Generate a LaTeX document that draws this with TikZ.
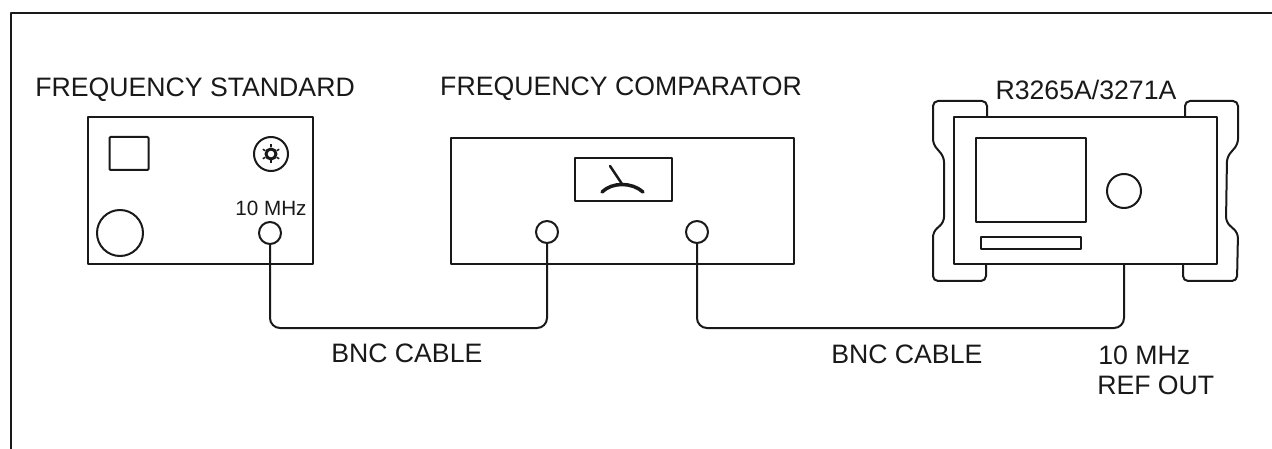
\documentclass[tikz,border=0pt]{standalone}
\usepackage{fontspec}
\setmainfont{Liberation Sans}
\def\px{0.75pt}
\tikzset{
  line/.style={line width=2*\px,draw=black!90,line join=round},
  panel/.style={line,rectangle,inner sep=0pt,minimum width=#1},
  port/.style={line,circle,inner sep=0pt,minimum size=#1},
  cable/.style={line,rounded corners=10*\px},
  label/.style={inner sep=0pt,text=black!90,font=\fontsize{20}{24}\selectfont},
  small/.style={inner sep=0pt,text=black!90,font=\fontsize{15.5}{18}\selectfont},
}
\begin{document}
\begin{tikzpicture}[x=\px,y=-\px]
\useasboundingbox (0,0) rectangle (1272,449);
\coordinate (tl) at (10.5,13);
\coordinate (tr) at (1272,13);
\coordinate (bl) at (10.5,449);
\draw[line] (bl) -- (tl) -- (tr);

% frequency standard
\node[panel=225*\px,minimum height=147*\px] (fs) at (200.5,190.5) {};
\node[panel=39*\px,minimum height=33*\px,rounded corners=1*\px] (fssq) at (129,153.5) {};
\node[port=34*\px] (fsknob) at (271,154) {};
\node[port=10*\px,line width=3*\px] (fsinner) at (271,154) {};
\node[port=46*\px] (fsbig) at (120,233) {};
\node[port=22*\px] (fsport) at (270,233) {};
\node[small,anchor=center] (fslab) at (271,208) {10 MHz};
\node[label,anchor=west] (fstitle) at (35,90) {FREQUENCY STANDARD};

% comparator
\node[panel=343*\px,minimum height=126*\px] (fc) at (622.5,201) {};
\node[panel=97*\px,minimum height=43*\px] (meter) at (623.5,179.5) {};
\node[port=22*\px] (fcin) at (547,232) {};
\node[port=22*\px] (fcout) at (697,232) {};
\coordinate (needletip) at (610,166);
\coordinate (needlebase) at (622,184);
\coordinate (arcl) at (602,192);
\coordinate (arcr) at (643,192);
\draw[line,line width=2.5*\px,line cap=round] (needletip) -- (needlebase);
\draw[line,line width=3.5*\px,line cap=round] (arcl) .. controls (612,182) and (632,182) .. (arcr);
\node[label] (fctitle) at (621,89) {FREQUENCY COMPARATOR};

% analyzer
\draw[line,rounded corners=5*\px] (987,117) -- (987,101) -- (933,101) -- (933,144) -- (944,157) -- (944,222) -- (933,232) -- (933,281) -- (986,281) -- (986,264);
\draw[line,rounded corners=5*\px] (1185,117) -- (1185,101) -- (1238,101) -- (1238,144) -- (1227,157) -- (1226,222) -- (1238,233) -- (1237,281) -- (1183,281) -- (1183,264);
\node[panel=263*\px,minimum height=147*\px,fill=white] (sa) at (1085.5,190.5) {};
\node[panel=110*\px,minimum height=84*\px] (screen) at (1031,180) {};
\node[panel=100*\px,minimum height=12*\px] (slot) at (1031,243) {};
\node[port=34*\px] (saknob) at (1124,191) {};
\node[label] (satitle) at (1086,90) {R3265A/3271A};
\coordinate (saout) at (1124,264);

% details of the knob
\foreach \a in {30,90,...,330}
  \draw[line,line width=1.5*\px] (fsinner.\a) -- ++(\a:3*\px);

% cables
\coordinate (bus) at (0,328);
\draw[cable] (fsport.south) -- (fsport.south |- bus) -- (fcin.south |- bus) -- (fcin.south);
\draw[cable] (fcout.south) -- (fcout.south |- bus) -- (saout |- bus) -- (saout);

% labels
\node[label,anchor=west] (c1) at (331,353) {BNC CABLE};
\node[label,anchor=west] (c2) at (831,354) {BNC CABLE};
\node[label,anchor=west] (r1) at (1098,355) {10 MHz};
\node[label,anchor=west] (r2) at (1097,385) {REF OUT};
\end{tikzpicture}
\end{document}
